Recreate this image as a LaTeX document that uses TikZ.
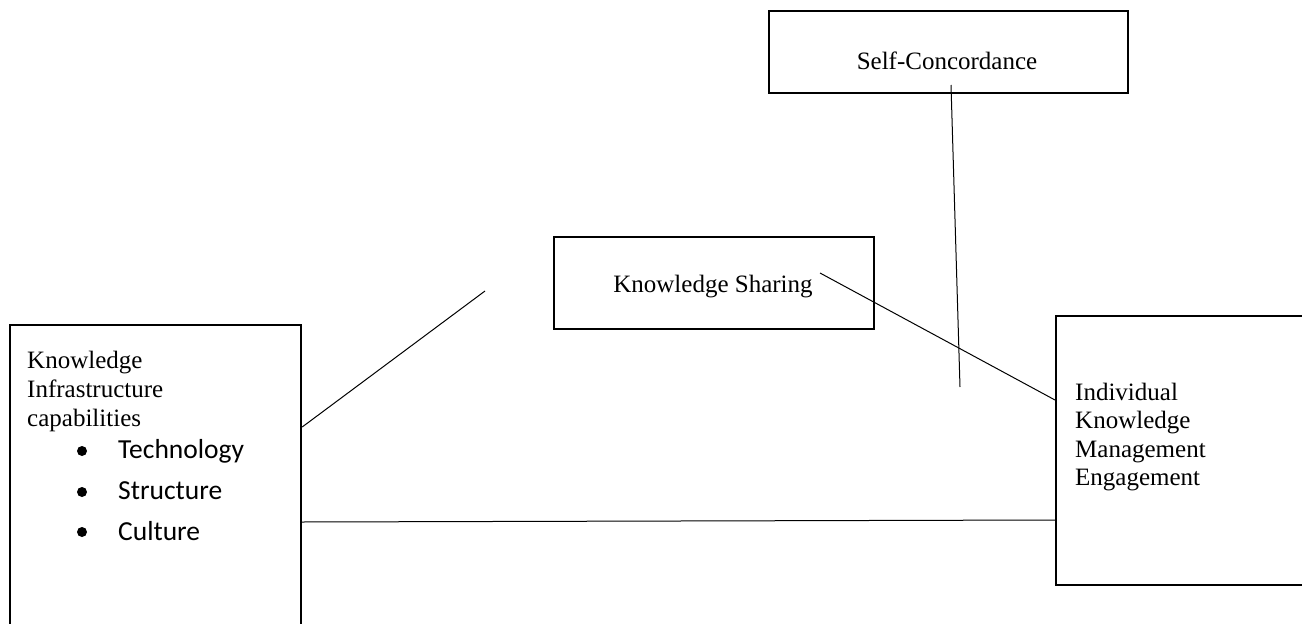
\documentclass[tikz,border=0pt]{standalone}
\usepackage{fontspec}
\setmainfont{Liberation Serif}
\newfontfamily\itemfont{Carlito}
\begin{document}
\begin{tikzpicture}[x=1pt,y=-1pt,
  box/.style={draw=black, line width=2.2pt, rectangle, inner sep=0pt, anchor=north west},
  serif/.style={font=\fontsize{25}{29}\selectfont, inner sep=0pt, anchor=base west},
  item/.style={font=\itemfont\fontsize{27.5}{33}\selectfont, inner sep=0pt, anchor=base west},
  dot/.style={circle, fill=black, inner sep=0pt, minimum size=10pt},
  link/.style={draw=black, line width=1pt}]
\useasboundingbox (0,0) rectangle (1302,624);
\clip (0,0) rectangle (1302,624);

% boxes
\node[box, minimum width=291pt, minimum height=330pt] (kic) at (9,324) {};
\node[box, minimum width=270pt, minimum height=269pt] (ikme) at (1055,315) {};
\node[box, minimum width=320pt, minimum height=92pt] (ks) at (553,236) {};
\node[box, minimum width=359pt, minimum height=82pt] (sc) at (768,10) {};

% texts
\node[serif] (t1) at (27,368) {Knowledge};
\node[serif] (t2) at (27,397) {Infrastructure};
\node[serif] (t3) at (27,426) {capabilities};
\node[dot] (b1) at (82,451) {};
\node[dot] (b2) at (82,492) {};
\node[dot] (b3) at (82,532) {};
\node[item] (i1) at (118,458) {Technology};
\node[item] (i2) at (118,499) {Structure};
\node[item] (i3) at (118,540) {Culture};

\node[serif] (r1) at (1075,400) {Individual};
\node[serif] (r2) at (1075,428) {Knowledge};
\node[serif] (r3) at (1075,457) {Management};
\node[serif] (r4) at (1075,485) {Engagement};

\node[font=\fontsize{25}{29}\selectfont, inner sep=0pt, anchor=base] (kst) at (713,292) {Knowledge Sharing};
\node[font=\fontsize{25}{29}\selectfont, inner sep=0pt, anchor=base] (sct) at (947,69) {Self-Concordance};

% connector end points
\coordinate (kicA) at (kic.north east |- 0,427);
\coordinate (kicB) at (kic.north east |- 0,522);
\coordinate (ikmeA) at (ikme.north west |- 0,400);
\coordinate (ikmeB) at (ikme.north west |- 0,520);
\coordinate (freeA) at (485,291);
\coordinate (ksIn) at (820,273);
\coordinate (scIn) at (951,85);
\coordinate (freeB) at (960,387);

% connectors
\draw[link] (kicA) -- (freeA);
\draw[link] (ksIn) -- (ikmeA);
\draw[link] (scIn) -- (freeB);
\draw[link] (kicB) -- (ikmeB);
\end{tikzpicture}
\end{document}
